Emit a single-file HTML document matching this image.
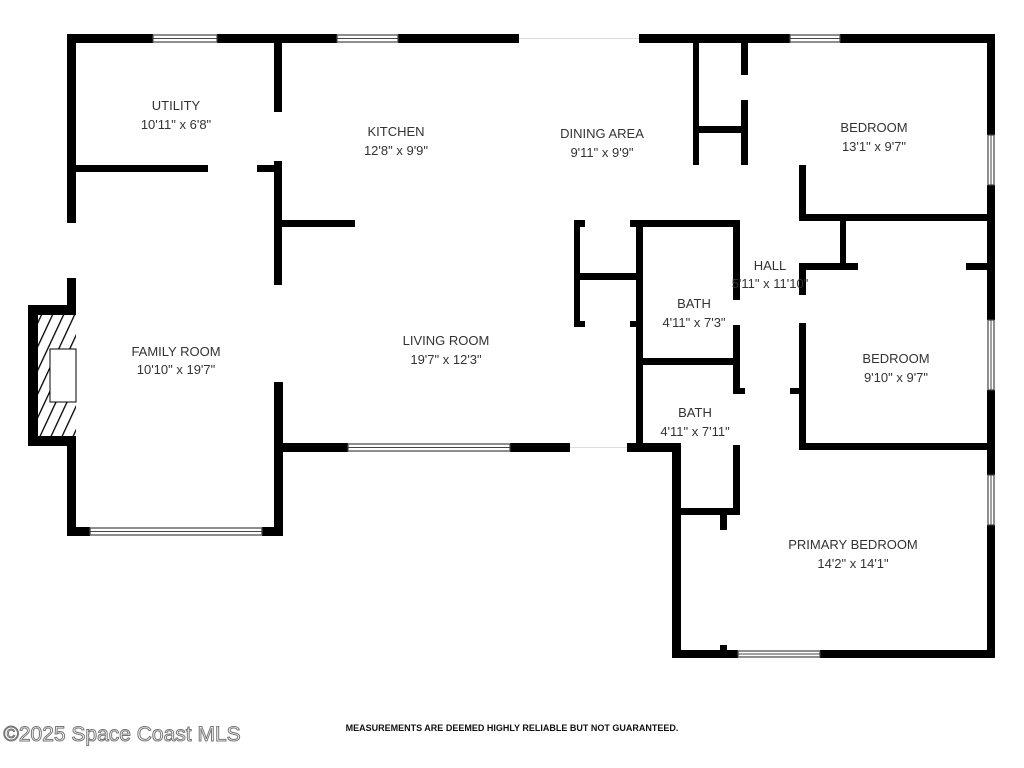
<!DOCTYPE html>
<html><head><meta charset="utf-8"><style>
html,body{margin:0;padding:0;background:#fff;width:1024px;height:768px;overflow:hidden}
svg{display:block}
text{font-family:"Liberation Sans",sans-serif;fill:#333;text-anchor:middle;font-size:13px}
</style></head><body>
<svg width="1024" height="768" viewBox="0 0 1024 768">
<defs><pattern id="h" width="10" height="10" patternUnits="userSpaceOnUse" patternTransform="rotate(25)"><rect width="10" height="10" fill="#fff"/><rect width="1.3" height="10" fill="#000"/></pattern></defs>
<g fill="#000">
<rect x="67" y="34" width="86" height="9"/><rect x="217" y="34" width="120" height="9"/><rect x="398" y="34" width="121" height="9"/><rect x="639" y="34" width="151" height="9"/><rect x="840" y="34" width="155" height="9"/>
<rect x="67" y="34" width="9" height="189"/><rect x="67" y="278" width="9" height="258"/>
<rect x="28" y="305" width="48" height="141"/>
<rect x="67" y="527" width="23" height="9"/><rect x="262" y="527" width="21" height="9"/>
<rect x="67" y="165" width="141" height="7"/><rect x="257" y="165" width="23" height="7"/>
<rect x="274" y="34" width="8" height="78"/><rect x="274" y="161" width="8" height="124"/><rect x="274" y="382" width="9" height="154"/>
<rect x="280" y="220" width="75" height="7"/>
<rect x="283" y="443" width="65" height="9"/><rect x="510" y="443" width="60" height="9"/><rect x="627" y="443" width="54" height="9"/>
<rect x="672" y="443" width="9" height="215"/>
<rect x="693" y="34" width="6" height="131"/><rect x="741" y="34" width="7" height="41"/><rect x="741" y="100" width="7" height="65"/>
<rect x="699" y="126" width="42" height="7"/>
<rect x="799" y="165" width="7" height="56"/><rect x="799" y="214" width="188" height="7"/>
<rect x="840" y="221" width="6" height="47"/>
<rect x="799" y="263" width="59" height="7"/><rect x="966" y="263" width="21" height="7"/>
<rect x="799" y="263" width="7" height="32"/><rect x="799" y="323" width="7" height="127"/>
<rect x="799" y="443" width="188" height="7"/>
<rect x="987" y="34" width="8" height="101"/><rect x="987" y="185" width="8" height="135"/><rect x="987" y="390" width="8" height="85"/><rect x="987" y="525" width="8" height="133"/>
<rect x="574" y="220" width="11" height="7"/><rect x="574" y="220" width="6" height="107"/><rect x="574" y="273" width="66" height="7"/>
<rect x="574" y="321" width="11" height="6"/><rect x="630" y="321" width="10" height="6"/>
<rect x="630" y="220" width="108" height="7"/>
<rect x="636" y="220" width="7" height="232"/>
<rect x="733" y="220" width="7" height="80"/><rect x="733" y="325" width="7" height="67"/>
<rect x="643" y="358" width="93" height="7"/>
<rect x="733" y="388" width="12" height="6"/><rect x="790" y="388" width="16" height="6"/>
<rect x="733" y="445" width="7" height="70"/><rect x="681" y="508" width="59" height="7"/>
<rect x="720" y="515" width="7" height="15"/><rect x="720" y="645" width="7" height="13"/>
<rect x="672" y="650" width="66" height="8"/><rect x="820" y="650" width="175" height="8"/>
</g>
<rect x="38" y="315" width="38" height="121" fill="url(#h)"/>
<rect x="50" y="349" width="26" height="53" fill="#fff" stroke="#000" stroke-width="1"/>
<g fill="#fff" stroke="#444" stroke-width="1.2">
<rect x="153" y="35" width="64" height="7"/><rect x="337" y="35" width="61" height="7"/><rect x="790" y="35" width="50" height="7"/>
<rect x="90" y="528" width="172" height="7"/><rect x="348" y="444" width="162" height="7"/>
<rect x="988" y="135" width="6" height="50"/><rect x="988" y="320" width="6" height="70"/><rect x="988" y="475" width="6" height="50"/>
<rect x="738" y="651" width="82" height="6"/>
</g>
<g stroke="#444" stroke-width="1">
<line x1="90" y1="531.5" x2="262" y2="531.5"/><line x1="348" y1="447.5" x2="510" y2="447.5"/>
<line x1="153" y1="38.5" x2="217" y2="38.5"/><line x1="337" y1="38.5" x2="398" y2="38.5"/><line x1="790" y1="38.5" x2="840" y2="38.5"/>
<line x1="738" y1="654" x2="820" y2="654"/>
<line x1="991" y1="135" x2="991" y2="185"/><line x1="991" y1="320" x2="991" y2="390"/><line x1="991" y1="475" x2="991" y2="525"/>
</g>
<g stroke="#ddd" stroke-width="1"><line x1="519" y1="38.5" x2="639" y2="38.5"/><line x1="570" y1="447.5" x2="627" y2="447.5"/></g>
<text x="176" y="110">UTILITY</text><text x="176" y="129">10'11" x 6'8"</text>
<text x="396" y="136">KITCHEN</text><text x="396" y="155">12'8" x 9'9"</text>
<text x="602" y="138">DINING AREA</text><text x="602" y="157">9'11" x 9'9"</text>
<text x="874" y="132">BEDROOM</text><text x="874" y="151">13'1" x 9'7"</text>
<text x="770" y="270">HALL</text><text x="770" y="288">5'11" x 11'10"</text>
<text x="694" y="308">BATH</text><text x="694" y="327">4'11" x 7'3"</text>
<text x="446" y="345">LIVING ROOM</text><text x="446" y="364">19'7" x 12'3"</text>
<text x="176" y="356">FAMILY ROOM</text><text x="176" y="374">10'10" x 19'7"</text>
<text x="896" y="363">BEDROOM</text><text x="896" y="382">9'10" x 9'7"</text>
<text x="695" y="417">BATH</text><text x="695" y="436">4'11" x 7'11"</text>
<text x="853" y="549">PRIMARY BEDROOM</text><text x="853" y="568">14'2" x 14'1"</text>
<text x="122" y="741" style="font-size:21px;fill:#fff;stroke:#777;stroke-width:1">©2025 Space Coast MLS</text>
<text x="512" y="731" style="font-size:9px;font-weight:bold;fill:#111">MEASUREMENTS ARE DEEMED HIGHLY RELIABLE BUT NOT GUARANTEED.</text>
</svg>
</body></html>
